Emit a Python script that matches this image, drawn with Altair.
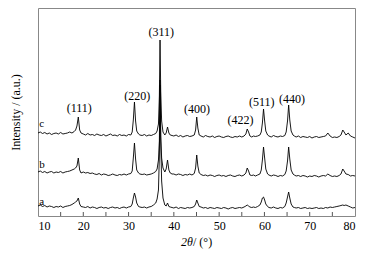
import altair as alt
import pandas as pd

# 2theta grid (degrees)
two_theta = [
    10, 10.5, 11, 11.5, 12, 12.5, 13, 13.5, 14, 14.5, 15, 15.5, 16, 16.5, 17, 17.5, 18,
    18.3, 18.6, 18.9, 19.2, 19.5,
    20, 20.5, 21, 21.5, 22, 22.5, 23, 23.5, 24, 24.5, 25, 25.5, 26, 26.5, 27, 27.5, 28, 28.5, 29, 29.5, 30, 30.5,
    30.8, 31.05, 31.3, 31.55, 31.8, 32.2,
    32.5, 33, 33.5, 34, 34.5, 35, 35.5, 36,
    36.3, 36.6, 36.8, 36.95, 37.1, 37.3, 37.6, 38.0, 38.3, 38.6, 38.9, 39.2, 39.6,
    40, 40.5, 41, 41.5, 42, 42.5, 43, 43.5, 44, 44.5,
    44.8, 45.05, 45.3, 45.6,
    46, 46.5, 47, 47.5, 48, 48.5, 49, 49.5, 50, 50.5, 51, 51.5, 52, 52.5, 53, 53.5, 54, 54.5, 55, 55.5,
    55.9, 56.2, 56.5, 56.8,
    57.2, 57.6, 58, 58.5, 59,
    59.3, 59.55, 59.8, 60.05, 60.3, 60.7,
    61, 61.5, 62, 62.5, 63, 63.5, 64, 64.5,
    64.8, 65.1, 65.35, 65.6, 65.9, 66.3,
    66.6, 67, 67.5, 68, 68.5, 69, 69.5, 70, 70.5, 71, 71.5, 72, 72.5, 73, 73.5, 74, 74.5, 75, 75.5, 76, 76.5,
    76.9, 77.3, 77.6, 78, 78.5, 79, 79.5, 80,
]

# curve c (top, offset)
int_c = [
    83, 84, 82.5, 83.5, 82, 83, 81.5, 82.5, 83, 82, 83.5, 82, 82.5, 83, 84, 83, 84.5,
    86, 90, 99, 86, 83,
    82, 81, 82.5, 81, 81.5, 80.5, 82, 81, 80.5, 81.5, 80, 81, 82, 80.5, 81, 80, 81.5, 80.5, 81, 80, 81.5, 81,
    84, 96, 114, 95, 85, 82,
    81, 80.5, 81.5, 80, 81, 80.5, 81.5, 82.5,
    85, 92, 120, 176, 125, 95, 84, 81, 83, 89, 83, 81, 80.5,
    80, 81, 79.5, 80.5, 79, 80, 80.5, 79.5, 80, 81,
    86, 99, 88, 81,
    80, 79, 80.5, 79.5, 79, 80, 78.5, 79.5, 80, 79, 78.5, 79.5, 80, 79, 78.5, 79.5, 79, 80, 79, 80,
    82, 87, 84, 80,
    79, 80, 79.5, 80, 81,
    84, 93, 107, 95, 85, 81,
    80, 79, 80.5, 79.5, 79, 80, 79.5, 80.5,
    84, 95, 111, 96, 85, 81,
    80, 79, 80, 78.5, 79.5, 79, 78.5, 79.5, 78, 79, 79.5, 78.5, 79, 79.5, 80, 83, 80, 78.5, 79, 78.5, 79.5,
    81, 86, 84, 81, 83, 80, 79, 78,
]

# curve b (middle)
int_b = [
    44, 45, 43.5, 44.5, 43, 44, 44.5, 43, 44, 43.5, 44.5, 43, 44, 44.5, 45, 46, 47,
    48, 50, 58, 46, 43,
    44, 43, 43.5, 42.5, 43, 42, 41.5, 42.5, 41, 42, 41.5, 40.5, 41, 42, 41, 40.5, 41.5, 41, 42, 41, 42, 42.5,
    45, 58, 73, 57, 46, 43,
    42, 41.5, 42, 41, 41.5, 42, 43, 44.5,
    47, 56, 75, 136, 80, 58, 48, 44, 47, 56, 46, 43, 42,
    42, 41, 42, 41.5, 40.5, 41.5, 41, 42, 41, 42.5,
    48, 61, 50, 43,
    41.5, 40.5, 41, 40, 41, 40.5, 39.5, 40.5, 41, 40, 40.5, 39.5, 40.5, 41, 40, 39.5, 40.5, 41, 40, 41,
    43, 48, 45, 41,
    40.5, 41, 40, 41, 42,
    46, 56, 69, 58, 47, 42,
    41, 40, 41, 40.5, 39.5, 40.5, 40, 41.5,
    45, 55, 69, 57, 46, 42,
    41, 40, 40.5, 39.5, 40.5, 40, 39, 40, 39.5, 40.5, 40, 39, 40, 40.5, 40, 42, 40.5, 39.5, 40, 39.5, 40.5,
    42, 47, 45, 42, 41.5, 40, 40.5, 40,
]

# curve a (bottom)
int_a = [
    10, 11, 9.5, 10.5, 9, 10, 9.5, 8.5, 9.5, 9, 10, 8.5, 9.5, 10, 10.5, 11.5, 13,
    14, 15, 18, 12, 9.5,
    9, 8.5, 9.5, 8, 9, 8.5, 7.5, 8.5, 9, 8, 8.5, 7.5, 8.5, 9, 8, 8.5, 7.5, 8.5, 9, 8, 9, 9.5,
    12, 18, 23, 19, 13, 9.5,
    9, 8.5, 9, 8, 9, 9.5, 11, 13,
    17, 26, 60, 131, 75, 35, 18, 11, 10, 13, 9.5, 9, 8.5,
    8, 9, 7.5, 8.5, 8, 7.5, 8.5, 8, 8.5, 9.5,
    12, 16, 13, 9.5,
    9, 8, 8.5, 7.5, 8.5, 8, 7.5, 8.5, 8, 7.5, 8.5, 8, 7, 8, 8.5, 7.5, 8, 8.5, 8, 9,
    10, 11, 10, 9,
    8.5, 9, 8.5, 9.5, 11,
    14, 18, 19, 16, 12, 9.5,
    8.5, 8, 9, 8, 7.5, 8.5, 8, 9.5,
    13, 19, 24, 18, 12, 9,
    8.5, 8, 8.5, 7.5, 8, 8.5, 7.5, 8, 7.5, 8, 8.5, 7.5, 8, 7.5, 8.5, 8, 9, 8.5, 9, 9.5, 10,
    10.5, 11, 10.5, 11, 10, 9, 8, 8.5,
]

assert len(int_a) == len(two_theta) == len(int_b) == len(int_c)

peak_labels = ["(111)", "(220)", "(311)", "(400)", "(422)", "(511)", "(440)"]
peak_label_x = [19.1, 31.9, 37.2, 45.1, 54.7, 59.4, 66.1]
peak_label_y = [108, 120, 184, 107, 96, 114, 117]

curve_names = ["a", "b", "c"]
curve_name_x = [10.25, 10.25, 10.25]
curve_name_y = [14, 51, 92]

x_tick_values = [15, 20, 25, 30, 35, 40, 45, 50, 55, 60, 65, 70, 75]
x_label_values = [10, 20, 30, 40, 50, 60, 70, 80]

rows = []
for name, vals in (("a", int_a), ("b", int_b), ("c", int_c)):
    for xv, yv in zip(two_theta, vals):
        rows.append({"x": xv, "y": yv, "s": name})
df = pd.DataFrame(rows)

lab_df = pd.DataFrame({"x": peak_label_x, "y": peak_label_y, "t": peak_labels})
name_df = pd.DataFrame({"x": curve_name_x, "y": curve_name_y, "t": curve_names})
tick_df = pd.DataFrame({"x": x_tick_values})

FONT = "Liberation Serif"

xscale = alt.Scale(domain=[10, 80], nice=False, zero=False)
yscale = alt.Scale(domain=[0, 208], nice=False, zero=False)

lines = alt.Chart(df).mark_line(color="black", strokeWidth=0.9).encode(
    x=alt.X("x:Q", scale=xscale, axis=alt.Axis(
        values=x_label_values, title=None, ticks=False, domain=False, grid=False,
        labelFont=FONT, labelFontSize=12, labelColor="black", labelPadding=4)),
    y=alt.Y("y:Q", scale=yscale, axis=alt.Axis(
        title="Intensity / (a.u.)", labels=False, ticks=False, domain=False, grid=False,
        titleFont=FONT, titleFontSize=12, titleFontWeight="normal", titleColor="black",
        titlePadding=16)),
    detail="s:N",
)

ticks = alt.Chart(tick_df).mark_rule(color="#555", strokeWidth=1).encode(
    x=alt.X("x:Q", scale=xscale),
    y=alt.value(208),
    y2=alt.value(204),
)

peaks = alt.Chart(lab_df).mark_text(font=FONT, fontSize=12, color="black",
                                     align="center", baseline="middle").encode(
    x=alt.X("x:Q", scale=xscale), y=alt.Y("y:Q", scale=yscale), text="t:N")

names = alt.Chart(name_df).mark_text(font=FONT, fontSize=11, color="black",
                                      align="left", baseline="middle").encode(
    x=alt.X("x:Q", scale=xscale), y=alt.Y("y:Q", scale=yscale), text="t:N")

xt1 = alt.Chart(pd.DataFrame({"t": ["2θ"]})).mark_text(
    font=FONT, fontSize=12, fontStyle="italic", color="black", align="right",
    baseline="middle").encode(x=alt.value(155), y=alt.value(234), text="t:N")
xt2 = alt.Chart(pd.DataFrame({"t": [" / (°)"]})).mark_text(
    font=FONT, fontSize=12, color="black", align="left",
    baseline="middle").encode(x=alt.value(155), y=alt.value(234), text="t:N")

chart = alt.layer(lines, ticks, peaks, names, xt1, xt2).properties(
    width=317, height=208,
    autosize=alt.AutoSizeParams(type="none"),
    padding={"left": 30, "top": 0, "right": 7, "bottom": 38},
).configure_view(stroke="#888", strokeWidth=1)

chart.save("out.html", embed_options={"renderer": "svg", "actions": False})
